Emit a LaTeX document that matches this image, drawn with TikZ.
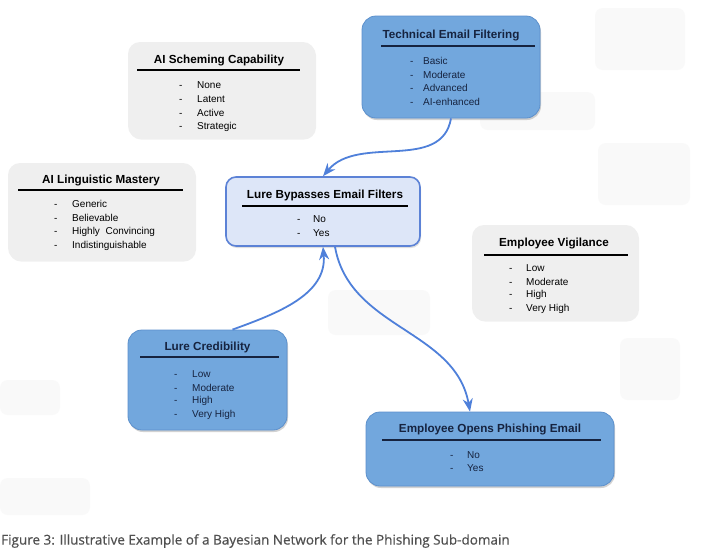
\documentclass[tikz,border=0pt]{standalone}
\usepackage{fontspec}
\setmainfont{Liberation Sans}
\newfontfamily\capfont{Open Sans}[FakeBold=0.5]
\definecolor{BoxBlue}{HTML}{72A7DD}
\definecolor{BoxBlueEdge}{HTML}{5C90CC}
\definecolor{BoxGray}{HTML}{EFEFEF}
\definecolor{KeyFill}{HTML}{DDE6F8}
\definecolor{KeyEdge}{HTML}{5C82D6}
\definecolor{ArrowBlue}{HTML}{4F80DA}
\definecolor{NavyText}{HTML}{16233F}
\definecolor{CapGray}{HTML}{505050}
\definecolor{GhostGray}{HTML}{F9F9F9}
\usetikzlibrary{arrows.meta, shadows}

\begin{document}
\begin{tikzpicture}[x=1pt, y=1pt,
    graybox/.style={fill=BoxGray, rounded corners=12pt,
      drop shadow={opacity=0.12, shadow xshift=1pt, shadow yshift=-1.5pt}},
    bluebox/.style={draw=BoxBlueEdge, fill=BoxBlue, rounded corners=14pt, line width=0.8pt,
      drop shadow={opacity=0.35, shadow xshift=1pt, shadow yshift=-2pt}},
    keybox/.style={draw=KeyEdge, fill=KeyFill, rounded corners=10pt, line width=1.6pt,
      drop shadow={opacity=0.25, shadow xshift=1pt, shadow yshift=-2pt}},
    title/.style={font=\fontsize{11.7}{14}\selectfont\bfseries, inner sep=0pt},
    state/.style={font=\fontsize{10}{12}\selectfont, anchor=west, inner sep=0pt},
    rule/.style={line width=1.4pt},
    arr/.style={-{Stealth[length=13pt, width=10pt]}, line width=1.8pt, ArrowBlue},
    ghost/.style={fill=GhostGray, rounded corners=8pt}
  ]
  \useasboundingbox[fill=white] (0,0) rectangle (709,-550);

  % faint background shapes
  \fill[ghost] (595,-8) rectangle (685,-70);
  \fill[ghost] (480,-92) rectangle (595,-130);
  \fill[ghost] (598,-143) rectangle (690,-205);
  \fill[ghost] (620,-338) rectangle (680,-400);
  \fill[ghost] (328,-290) rectangle (430,-335);
  \fill[ghost] (0,-380) rectangle (60,-415);
  \fill[ghost] (0,-478) rectangle (90,-515);

  % AI Scheming Capability
  \node[graybox, minimum width=187pt, minimum height=96pt] (scheme) at (221.5,-90) {};
  \node[title] (scheme-t) at (219,-60) {AI Scheming Capability};
  \draw[rule] (137,-70) -- (300,-70);
  \foreach \s [count=\i from 0] in {None, Latent, Active, Strategic}
    \node[state] (scheme-\i) at (179,-85-14*\i) {\makebox[18pt][l]{-}\s};

  % Technical Email Filtering
  \node[bluebox, minimum width=178pt, minimum height=102pt] (tef) at (451,-67) {};
  \node[title, text=NavyText] (tef-t) at (451,-35) {Technical Email Filtering};
  \draw[rule, NavyText] (381,-46) -- (535,-46);
  \foreach \s [count=\i from 0] in {Basic, Moderate, Advanced, AI-enhanced}
    \node[state, text=NavyText] (tef-\i) at (410,-61-13.5*\i) {\makebox[13pt][l]{-}\s};

  % AI Linguistic Mastery
  \node[graybox, minimum width=187pt, minimum height=97pt] (ling) at (101.5,-211.5) {};
  \node[title] (ling-t) at (101,-180) {AI Linguistic Mastery};
  \draw[rule] (18,-190) -- (183,-190);
  \foreach \s [count=\i from 0] in {Generic, Believable, Highly\ \ Convincing, Indistinguishable}
    \node[state] (ling-\i) at (54,-204-14*\i) {\makebox[18pt][l]{-}\s};

  % Lure Bypasses Email Filters
  \node[keybox, minimum width=194pt, minimum height=69pt] (bypass) at (323,-211.5) {};
  \node[title] (bypass-t) at (325,-195) {Lure Bypasses Email Filters};
  \draw[rule] (242,-206) -- (408,-206);
  \foreach \s [count=\i from 0] in {No, Yes}
    \node[state] (bypass-\i) at (297,-219-14*\i) {\makebox[16pt][l]{-}\s};

  % Employee Vigilance
  \node[graybox, minimum width=166pt, minimum height=95pt] (vig) at (555,-272.5) {};
  \node[title] (vig-t) at (554,-243) {Employee Vigilance};
  \draw[rule] (484,-255) -- (628,-255);
  \foreach \s [count=\i from 0] in {Low, Moderate, High, Very High}
    \node[state] (vig-\i) at (509,-268-13.5*\i) {\makebox[17pt][l]{-}\s};

  % Lure Credibility
  \node[bluebox, minimum width=159pt, minimum height=100pt] (cred) at (207.5,-380) {};
  \node[title, text=NavyText] (cred-t) at (207.5,-347) {Lure Credibility};
  \draw[rule, NavyText] (140,-357) -- (279,-357);
  \foreach \s [count=\i from 0] in {Low, Moderate, High, Very High}
    \node[state, text=NavyText] (cred-\i) at (174,-374-13.5*\i) {\makebox[18pt][l]{-}\s};

  % Employee Opens Phishing Email
  \node[bluebox, minimum width=248pt, minimum height=74pt] (opens) at (490,-449) {};
  \node[title, text=NavyText] (opens-t) at (490,-429) {Employee Opens Phishing Email};
  \draw[rule, NavyText] (382,-440) -- (601,-440);
  \foreach \s [count=\i from 0] in {No, Yes}
    \node[state, text=NavyText] (opens-\i) at (450,-455-13.5*\i) {\makebox[17pt][l]{-}\s};

  % influences
  \draw[arr] (tef.south) to[out=-100, in=50] (bypass.north);
  \draw[arr] ([xshift=25pt]cred.north) to[out=20, in=-85] (bypass.south);
  \draw[arr] ([xshift=12pt]bypass.south) to[out=-80, in=100] ([xshift=-20pt]opens.north);

  \node[anchor=west, inner sep=0pt, text=CapGray, font=\capfont\fontsize{13.5}{16}\selectfont]
    (cap) at (1,-541) {Figure 3: Illustrative Example of a Bayesian Network for the Phishing Sub-domain};
\end{tikzpicture}
\end{document}
